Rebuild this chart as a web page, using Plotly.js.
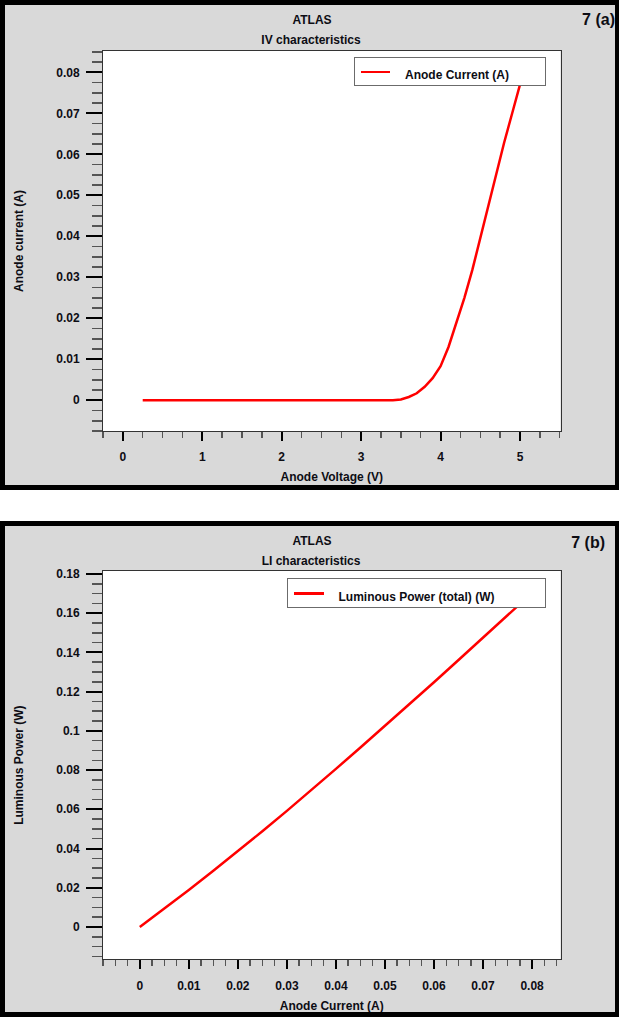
<!DOCTYPE html>
<html>
<head>
<meta charset="utf-8">
<script src="https://cdn.plot.ly/plotly-3.0.1.min.js"></script>
<style>
html,body{margin:0;padding:0;background:#fff;}
#page{position:relative;width:619px;height:1017px;background:#fff;overflow:hidden;}
.chart{position:absolute;left:0;width:619px;}
.frame{position:absolute;left:0;width:619px;box-sizing:border-box;border:5px solid #000;border-right-width:4px;pointer-events:none;z-index:10;}
.txt{position:absolute;white-space:nowrap;font-family:"Liberation Sans",Arial,sans-serif;font-weight:bold;color:#0d0d14;line-height:1;z-index:20;}
.c{transform:translate(-50%,-50%);}
.r{transform:translate(-100%,-50%);}
.l{transform:translate(0,-50%);}
.lgbox{position:absolute;box-sizing:border-box;background:#fff;border:1px solid #6b6b6b;z-index:15;}
.lgline{position:absolute;height:2.5px;background:#ff0000;z-index:16;}
</style>
</head>
<body>
<div id="page">
  <div id="panelA" class="chart" style="top:0;height:490px;"></div>
  <div class="frame" style="top:0;height:490px;"></div>
  <div id="panelB" class="chart" style="top:521px;height:496px;"></div>
  <div class="frame" style="top:521px;height:496px;"></div>
</div>
<script>
// ---- data ----
const ivVoltage = [0.25,0.5,0.75,1.0,1.25,1.5,1.75,2.0,2.25,2.5,2.75,3.0,3.25,3.4,3.5,3.6,3.7,3.8,3.9,4.0,4.1,4.2,4.3,4.4,4.5,4.6,4.7,4.8,4.9,5.0];
const ivCurrent = [0,0,0,0,0,0,0,0,0,0,0,0,0,0,0.0002,0.0008,0.0017,0.0033,0.0054,0.0083,0.0130,0.0189,0.0250,0.0318,0.0396,0.0475,0.0552,0.0628,0.0699,0.0770];
const liCurrent = [0,0.005,0.01,0.015,0.02,0.025,0.03,0.035,0.04,0.045,0.05,0.055,0.06,0.065,0.07,0.075,0.077];
const liPower   = [0,0.0093,0.0188,0.0286,0.0386,0.0488,0.0592,0.0698,0.0806,0.0915,0.1025,0.1136,0.1248,0.1361,0.1475,0.1589,0.1635];
const titleMain = "ATLAS";
const titleA = "IV characteristics";
const titleB = "LI characteristics";
const tagA = "7 (a)";
const tagB = "7 (b)";
const legendA = "Anode Current (A)";
const legendB = "Luminous Power (total) (W)";
const xTitleA = "Anode Voltage (V)";
const yTitleA = "Anode current (A)";
const xTitleB = "Anode Current (A)";
const yTitleB = "Luminous Power (W)";

// ---- styling helpers ----
const W = 619;
const FONT = "Liberation Sans, Arial, sans-serif";
const TXT = "#0d0d14";
const GRAY = "#d9d9d9";
const f = (s) => ({family: FONT, size: s, color: TXT, weight: "bold"});
const px = x => x / W;
const page = document.getElementById("page");

function addText(text, x, y, anchor, size) {
  const d = document.createElement("div");
  d.className = "txt " + anchor;
  d.style.left = x + "px";
  d.style.top = y + "px";
  d.style.fontSize = size + "px";
  d.textContent = text;
  page.appendChild(d);
}
function addLegend(lg, text) {
  const b = document.createElement("div");
  b.className = "lgbox";
  b.style.left = lg.x0 + "px"; b.style.top = lg.y0 + "px";
  b.style.width = (lg.x1 - lg.x0) + "px"; b.style.height = (lg.y1 - lg.y0) + "px";
  page.appendChild(b);
  const l = document.createElement("div");
  l.className = "lgline";
  l.style.left = lg.lx0 + "px"; l.style.top = (lg.ly - 1.25) + "px";
  l.style.width = (lg.lx1 - lg.lx0) + "px";
  page.appendChild(l);
  addText(text, lg.tx, lg.ty, "l", 12);
}

function xAx(domain, range, dtick, mdtick, title) {
  return {
    domain: domain, range: range,
    tick0: 0, dtick: dtick, ticks: "outside", ticklen: 9, tickwidth: 2, tickcolor: "#000",
    minor: {tick0: 0, dtick: mdtick, ticks: "outside", ticklen: 6, tickwidth: 1.5, tickcolor: "#555", showgrid: false},
    showline: true, mirror: true, linecolor: "#333", linewidth: 1,
    showgrid: false, zeroline: false, tickfont: f(12), ticklabelstandoff: 6,
    title: {text: title, font: f(12), standoff: 9}, automargin: false, fixedrange: true
  };
}
function yAx(domain, range, dtick, mdtick, title) {
  return {
    domain: domain, range: range,
    tick0: 0, dtick: dtick, ticks: "outside", ticklen: 16, tickwidth: 2, tickcolor: "#000",
    minor: {tick0: 0, dtick: mdtick, ticks: "outside", ticklen: 10, tickwidth: 1.5, tickcolor: "#555", showgrid: false},
    showline: true, mirror: true, linecolor: "#333", linewidth: 1,
    showgrid: false, zeroline: false, tickfont: f(12), ticklabelstandoff: 4,
    title: {text: title, font: f(12), standoff: 30}, automargin: false, fixedrange: true
  };
}

// cfg: page-coordinate geometry of one panel
function drawPanel(divId, cfg) {
  const py = y => 1 - (y - cfg.top) / cfg.height;
  const layout = {
    width: W, height: cfg.height, margin: {l: 0, r: 0, t: 0, b: 0},
    paper_bgcolor: GRAY, plot_bgcolor: "#ffffff", showlegend: false,
    xaxis: xAx([px(103), px(560.5)], cfg.xRange, cfg.xDtick, cfg.xMinor, cfg.xTitle),
    yaxis: yAx([py(cfg.plotBottom), py(cfg.plotTop)], cfg.yRange, cfg.yDtick, cfg.yMinor, cfg.yTitle)
  };
  const trace = {x: cfg.x, y: cfg.y, type: "scatter", mode: "lines", name: cfg.legendText,
                 line: {color: "#ff0000", width: 2.5}, showlegend: false};
  Plotly.newPlot(divId, [trace], layout, {displayModeBar: false, staticPlot: true});
  addText(titleMain, 312, cfg.top + 20, "c", 12);
  addText(cfg.subtitle, 311, cfg.top + 39.5, "c", 12);
  addText(cfg.tag, cfg.tagX, cfg.top + cfg.tagDy, "r", 16);
  addLegend(cfg.legend, cfg.legendText);
}

drawPanel("panelA", {
  top: 0, height: 490, plotTop: 51, plotBottom: 431,
  x: ivVoltage, y: ivCurrent,
  xRange: [-0.25, 5.51], xDtick: 1, xMinor: 0.25, xTitle: xTitleA,
  yRange: [-0.0075, 0.0852], yDtick: 0.01, yMinor: 0.0025, yTitle: yTitleA,
  subtitle: titleA, tag: tagA, tagX: 615, tagDy: 20, legendText: legendA,
  legend: {x0: 354.3, x1: 546, y0: 57.3, y1: 85.7, lx0: 361, lx1: 390, ly: 72, tx: 405, ty: 75}
});

drawPanel("panelB", {
  top: 521, height: 496, plotTop: 571, plotBottom: 959.3,
  x: liCurrent, y: liPower,
  xRange: [-0.0075, 0.0858], xDtick: 0.01, xMinor: 0.0025, xTitle: xTitleB,
  yRange: [-0.0165, 0.1815], yDtick: 0.02, yMinor: 0.005, yTitle: yTitleB,
  subtitle: titleB, tag: tagB, tagX: 605, tagDy: 22, legendText: legendB,
  legend: {x0: 287.3, x1: 546, y0: 578.3, y1: 607.7, lx0: 294, lx1: 324.3, ly: 593.3, tx: 338.5, ty: 596.5}
});
</script>
</body>
</html>
